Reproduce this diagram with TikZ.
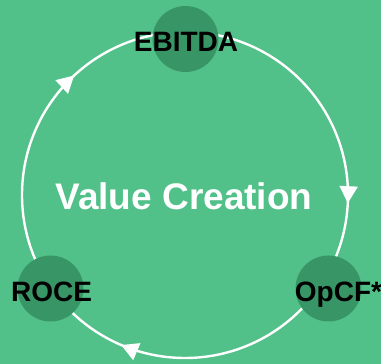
\documentclass[tikz,border=0pt]{standalone}
\usepackage{fontspec}
\setmainfont{Liberation Sans}
\usetikzlibrary{arrows.meta,decorations.markings}
\definecolor{bggreen}{RGB}{82,193,137}
\definecolor{stagegreen}{RGB}{56,149,102}
\tikzset{
  stage/.style={circle, fill=stagegreen, minimum size=66pt, inner sep=0pt},
  stagelabel/.style={anchor=base, font=\fontsize{28}{30}\selectfont\bfseries, text=black, inner sep=0pt},
  ring/.style={draw=white, line width=2.4pt},
}
\def\ringtip{\arrow[white]{Triangle[length=17pt,width=18pt]}}
\begin{document}
\begin{tikzpicture}[x=1pt,y=1pt]
		%%%%% START %%%%%
		
		\useasboundingbox (0, 0) rectangle (381, 364);
		\fill[bggreen] (0, 0) rectangle (381, 364);
		
		\coordinate (c) at (185, 169);
		
		\draw[ring, postaction={decorate}, decoration={markings,
			mark=at position 0.258 with {\ringtip},
			mark=at position 0.564 with {\ringtip},
			mark=at position 0.881 with {\ringtip}}]
			(c) ++(90:163) arc[start angle=90, end angle=-270, radius=163];
		
		\node[stage] (ebitda) at (185.5, 325) {};
		\node[stage] (opcf) at (328.5, 75.5) {};
		\node[stage] (roce) at (50.5, 75.5) {};
		
		\node[stagelabel] (ebitdatext) at (186, 312) {EBITDA};
		\node[stagelabel] (opcftext) at (338.5, 62) {OpCF*};
		\node[stagelabel] (rocetext) at (51.5, 62) {ROCE};
		
		\node[anchor=base, text=white, inner sep=0pt, font=\fontsize{37}{40}\selectfont\bfseries] (value) at (184, 154) {Value Creation};
		
		%%%%% END %%%%%
\end{tikzpicture}
\end{document}
